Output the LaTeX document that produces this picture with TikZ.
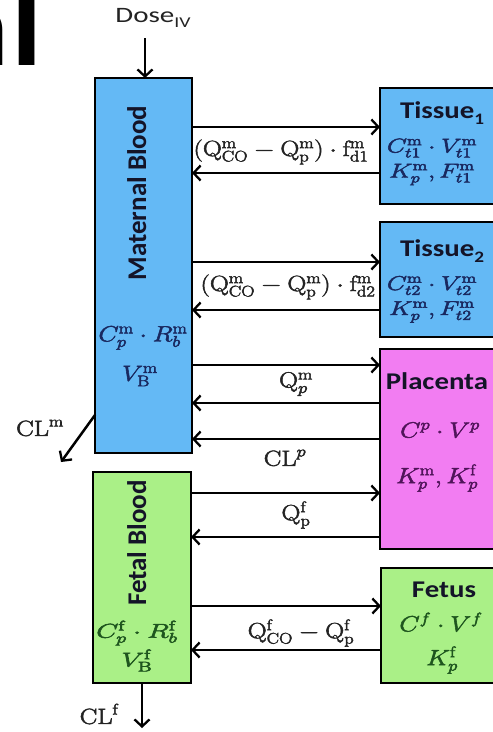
\RequirePackage{fix-cm}
\documentclass[tikz,border=0pt]{standalone}
\usepackage{fontspec}
\newfontfamily\calfont{Carlito}
\usetikzlibrary{arrows.meta}
\definecolor{mblue}{RGB}{100,185,245}
\definecolor{fgreen}{RGB}{170,240,135}
\definecolor{ppink}{RGB}{242,125,242}
\definecolor{navy}{RGB}{25,40,95}
\definecolor{titlec}{RGB}{20,20,40}
\definecolor{dgreen}{RGB}{30,85,30}
\definecolor{dpurple}{RGB}{80,20,90}
\definecolor{lblc}{RGB}{35,35,35}
\newcommand\heavy[1]{\special{pdf:literal direct 2 Tr 0.45 w}#1\special{pdf:literal direct 0 Tr}}
\tikzset{
  comp/.style={draw=black, line width=2.5, outer sep=0pt, inner sep=0pt},
  flow/.style={line width=2.5, -{Straight Barb[length=7,width=15,line width=2.3]}},
  hs/.style={xscale=1.2, inner sep=0pt},
  mth/.style={hs, font=\fontsize{22}{25}\selectfont},
  mth2/.style={hs, xscale=1.08, align=center, font=\fontsize{20}{24}\selectfont},
  ttl/.style={hs, font=\calfont\bfseries\fontsize{24}{26}\selectfont},
  vttl/.style={rotate=90, inner sep=0pt, anchor=base, font=\calfont\bfseries\fontsize{27}{29}\selectfont, text=titlec},
}
\begin{document}
\begin{tikzpicture}[x=1pt,y=-1pt]
\useasboundingbox (0,0) rectangle (493,732);
\clip (0,0) rectangle (493,732);
% cropped heading fragment
\node[font=\calfont\bfseries\fontsize{115}{115}\selectfont, anchor=base east, xscale=1.1, inner sep=0pt] (hdr) at (43,65) {n\kern2pt l};
% compartments
\node[comp, fill=mblue, minimum width=97, minimum height=375] (mat) at (143.5,265.5) {};
\node[comp, fill=fgreen, minimum width=98, minimum height=211] (fet) at (142,577.5) {};
\node[comp, fill=mblue, minimum width=120, minimum height=116] (t1) at (440,146) {};
\node[comp, fill=mblue, minimum width=120, minimum height=115] (t2) at (440,279.5) {};
\node[comp, fill=ppink, minimum width=120, minimum height=200] (pla) at (440,449) {};
\node[comp, fill=fgreen, minimum width=119, minimum height=115] (fts) at (440.5,625.5) {};
% compartment texts
\node[vttl] (matT) at (146,193) {Maternal Blood};
\node[mth, text=navy] (matA) at (143,338) {\heavy{$C^{\mathrm{m}}_{p}\cdot R^{\mathrm{m}}_{b}$}};
\node[mth, text=navy] (matB) at (140,376) {\heavy{$V^{\mathrm{m}}_{\mathrm{B}}$}};
\node[vttl] (fetT) at (146,543) {Fetal Blood};
\node[mth2, xscale=1.1, text=dgreen] (fetA) at (137,646) {\heavy{$C^{\mathrm{f}}_{p}\cdot R^{\mathrm{f}}_{b}$}\\[3pt]\heavy{$V^{\mathrm{f}}_{\mathrm{B}}$}};
\node[ttl, text=titlec] (t1T) at (442,113) {Tissue\raisebox{-0.22em}{\fontsize{16}{16}\selectfont 1}};
\node[mth2, text=navy] (t1A) at (432,162) {\heavy{$C^{\mathrm{m}}_{t1}\cdot V^{\mathrm{m}}_{t1}$}\\[1pt]\heavy{$K^{\mathrm{m}}_{p}, F^{\mathrm{m}}_{t1}$}};
\node[ttl, text=titlec] (t2T) at (442,251) {Tissue\raisebox{-0.22em}{\fontsize{16}{16}\selectfont 2}};
\node[mth2, text=navy] (t2A) at (432,299.5) {\heavy{$C^{\mathrm{m}}_{t2}\cdot V^{\mathrm{m}}_{t2}$}\\[1pt]\heavy{$K^{\mathrm{m}}_{p}, F^{\mathrm{m}}_{t2}$}};
\node[ttl, text=titlec] (plaT) at (437,381) {Placenta};
\node[mth, text=dpurple] (plaA) at (440,430) {\heavy{$C^{p}\cdot V^{p}$}};
\node[mth, text=dpurple] (plaB) at (437,478) {\heavy{$K^{\mathrm{m}}_{p}, K^{\mathrm{f}}_{p}$}};
\node[ttl, text=titlec] (ftsT) at (444,590) {Fetus};
\node[mth, text=dgreen] (ftsA) at (441,622) {\heavy{$C^{f}\cdot V^{f}$}};
\node[mth, text=dgreen] (ftsB) at (442,660) {\heavy{$K^{\mathrm{f}}_{p}$}};
% flow labels
\node[mth, text=lblc] (l1) at (281,152) {\heavy{$\bigl(\mathrm{Q}^{\mathrm{m}}_{\mathrm{CO}}-\mathrm{Q}^{\mathrm{m}}_{\mathrm{p}}\bigr)\cdot\mathrm{f}^{\mathrm{m}}_{\mathrm{d1}}$}};
\node[mth, text=lblc] (l2) at (288,287) {\heavy{$\bigl(\mathrm{Q}^{\mathrm{m}}_{\mathrm{CO}}-\mathrm{Q}^{\mathrm{m}}_{\mathrm{p}}\bigr)\cdot\mathrm{f}^{\mathrm{m}}_{\mathrm{d2}}$}};
\node[mth, text=lblc] (l3) at (296,384) {\heavy{$\mathrm{Q}^{\mathrm{m}}_{p}$}};
\node[mth, text=lblc] (l4) at (285,458) {\heavy{$\mathrm{CL}^{p}$}};
\node[mth, text=lblc] (l5) at (296,515) {\heavy{$\mathrm{Q}^{\mathrm{f}}_{\mathrm{p}}$}};
\node[mth, text=lblc] (l6) at (301,633) {\heavy{$\mathrm{Q}^{\mathrm{f}}_{\mathrm{CO}}-\mathrm{Q}^{\mathrm{f}}_{\mathrm{p}}$}};
\node[mth, text=lblc] (clmL) at (40,428) {\heavy{$\mathrm{CL}^{\mathrm{m}}$}};
\node[mth, text=lblc] (clfL) at (99,714) {\heavy{$\mathrm{CL}^{\mathrm{f}}$}};
\node[hs, xscale=1.1, font=\calfont\fontsize{22}{24}\selectfont, text=lblc] (dose) at (153,18) {Dose\raisebox{-0.25em}{\fontsize{15}{15}\selectfont IV}};
% level coordinates
\coordinate (y1) at (0,127);
\coordinate (y2) at (0,173);
\coordinate (y3) at (0,262);
\coordinate (y4) at (0,310);
\coordinate (y5) at (0,365);
\coordinate (y6) at (0,403);
\coordinate (y7) at (0,439);
\coordinate (y8) at (0,493);
\coordinate (y9) at (0,537);
\coordinate (y10) at (0,606);
\coordinate (y11) at (0,650);
\coordinate (ym) at (0,415);
\coordinate (dtop) at (145,38);
\coordinate (clmEnd) at (61,462);
\coordinate (clfEnd) at (142,728);
% flows
\draw[flow] (mat.east |- y1) -- (t1.west |- y1);
\draw[flow] (t1.west |- y2) -- (mat.east |- y2);
\draw[flow] (mat.east |- y3) -- (t2.west |- y3);
\draw[flow] (t2.west |- y4) -- (mat.east |- y4);
\draw[flow] (mat.east |- y5) -- (pla.west |- y5);
\draw[flow] (pla.west |- y6) -- (mat.east |- y6);
\draw[flow] (pla.west |- y7) -- (mat.east |- y7);
\draw[flow] (fet.east |- y8) -- (pla.west |- y8);
\draw[flow] (pla.west |- y9) -- (fet.east |- y9);
\draw[flow] (fet.east |- y10) -- (fts.west |- y10);
\draw[flow] (fts.west |- y11) -- (fet.east |- y11);
\draw[flow] (dtop) -- (dtop |- mat.north);
\draw[flow] (mat.west |- ym) -- (clmEnd);
\draw[flow] (fet.south) -- (clfEnd);
\end{tikzpicture}
\end{document}
